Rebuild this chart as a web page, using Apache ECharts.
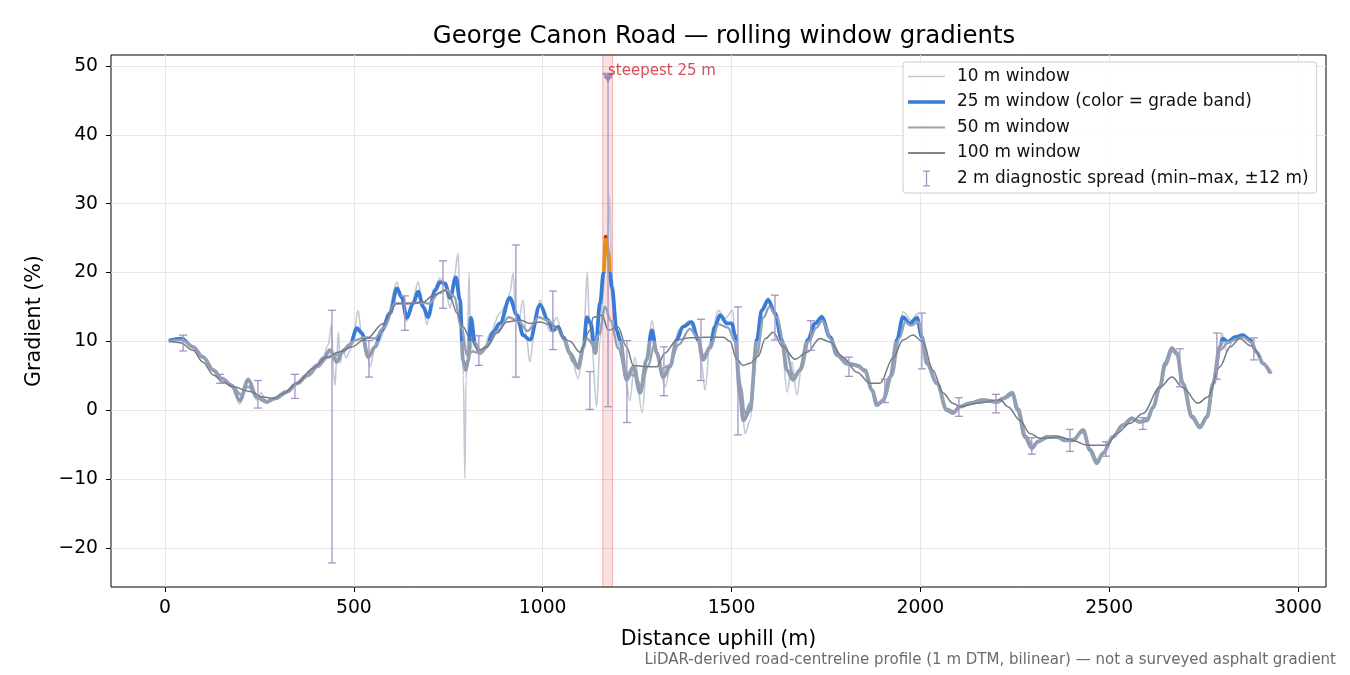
<!DOCTYPE html>
<html>
<head>
<meta charset="utf-8">
<script src="https://cdn.jsdelivr.net/npm/echarts@6/dist/echarts.min.js"></script>
<style>
  html, body { margin: 0; padding: 0; background: #fff; }
  #chart { width: 1350px; height: 675px; }
</style>
</head>
<body>
<div id="chart"></div>
<script>
// gradient (%) vs distance uphill (m)
const win10 = [[10,10.0],[44,10.5],[74,9.1],[101,7.5],[128,5.6],[150,4.5],[177,3.3],[198,0.9],[220,4.7],[243,1.5],[255,2.5],[269,1.0],[291,1.6],[322,2.6],[349,3.9],[376,5.0],[402,6.6],[419,7.8],[432,9.5],[441,12.4],[446,5.5],[450,3.6],[455,8.0],[459,11.3],[464,6.8],[470,8.8],[480,7.6],[490,8.7],[500,11.0],[511,14.5],[521,10.8],[534,8.7],[543,6.3],[556,9.0],[570,10.2],[590,14.0],[614,18.6],[627,16.0],[640,12.9],[657,16.0],[670,18.6],[684,15.0],[693,12.4],[712,17.5],[728,19.2],[741,18.2],[755,14.8],[766,19.5],[776,22.8],[781,15.5],[786,13.5],[790,5.0],[794,-9.9],[797,4.5],[800,6.8],[805,19.9],[809,11.0],[813,8.7],[826,8.3],[843,8.7],[861,11.2],[887,14.1],[905,15.5],[913,17.0],[922,19.9],[928,14.5],[935,12.4],[948,16.0],[957,10.5],[966,7.0],[980,12.5],[993,16.0],[1005,13.5],[1019,11.4],[1037,13.5],[1054,10.2],[1076,7.7],[1094,4.6],[1108,9.7],[1118,20.1],[1124,12.5],[1130,9.2],[1143,0.5],[1152,10.2],[1160,17.0],[1165,21.8],[1172,24.5],[1177,31.0],[1183,20.0],[1191,13.4],[1205,8.5],[1218,4.8],[1231,1.4],[1244,7.7],[1263,-0.4],[1279,9.2],[1289,13.0],[1306,7.3],[1324,3.4],[1342,7.3],[1359,11.6],[1390,13.0],[1408,11.0],[1420,7.0],[1430,2.9],[1443,9.7],[1465,14.5],[1483,13.3],[1503,14.5],[1513,7.3],[1527,0.5],[1536,-3.4],[1549,-1.5],[1567,8.3],[1580,14.5],[1597,16.3],[1615,14.0],[1633,9.8],[1647,2.6],[1660,7.0],[1673,2.2],[1685,6.0],[1702,10.0],[1721,12.5],[1739,13.8],[1761,10.5],[1779,7.8],[1806,6.5],[1820,6.8],[1841,6.5],[1853,5.6],[1872,2.6],[1885,0.6],[1901,1.2],[1920,5.0],[1938,10.5],[1954,14.3],[1977,13.0],[1991,14.0],[2004,10.5],[2017,6.5],[2044,3.8],[2070,-0.2],[2086,-0.6],[2105,0.6],[2131,1.1],[2166,1.3],[2203,1.0],[2219,1.8],[2243,2.7],[2258,-0.2],[2277,-4.1],[2295,-5.8],[2311,-4.4],[2335,-3.7],[2362,-4.1],[2383,-4.6],[2404,-4.2],[2431,-2.7],[2449,-6.0],[2467,-7.9],[2483,-6.1],[2510,-3.7],[2536,-2.0],[2560,-1.0],[2581,-1.9],[2600,-1.3],[2616,0.6],[2634,3.5],[2648,7.0],[2666,9.2],[2679,8.0],[2695,3.7],[2719,-1.2],[2740,-2.7],[2759,-0.8],[2775,4.0],[2793,9.5],[2798,11.2],[2811,8.5],[2833,10.8],[2854,11.0],[2873,10.0],[2891,8.2],[2907,6.6],[2926,5.3]];

const win25 = [[10,10.1],[44,10.4],[74,9.2],[101,7.7],[128,5.8],[150,4.6],[177,3.6],[198,1.4],[220,4.4],[243,1.9],[269,1.2],[291,1.7],[322,2.7],[349,3.9],[376,5.1],[402,6.5],[419,7.5],[437,8.7],[455,7.0],[470,8.5],[490,9.5],[508,11.9],[521,11.2],[538,7.7],[556,9.2],[574,11.6],[596,14.1],[614,17.7],[627,16.4],[640,13.4],[657,15.5],[670,17.2],[684,15.0],[696,13.5],[715,17.4],[728,18.6],[741,18.4],[755,16.3],[770,19.3],[781,16.0],[789,7.3],[796,5.8],[803,7.3],[810,13.4],[821,9.7],[834,8.3],[852,9.2],[868,11.3],[887,12.6],[913,16.3],[932,13.8],[948,10.9],[966,10.2],[993,15.3],[1014,13.1],[1027,11.6],[1041,12.1],[1054,10.6],[1072,8.3],[1094,6.3],[1108,9.2],[1117,13.5],[1127,12.6],[1139,8.3],[1152,15.5],[1161,19.9],[1167,25.2],[1174,22.8],[1178,19.9],[1183,17.9],[1196,11.6],[1205,10.2],[1222,4.4],[1240,6.3],[1258,2.5],[1275,7.3],[1289,11.6],[1302,8.3],[1319,4.8],[1337,6.3],[1355,10.2],[1371,12.1],[1394,12.8],[1412,10.2],[1425,7.3],[1443,9.2],[1456,12.1],[1469,13.8],[1488,12.6],[1501,12.6],[1509,10.9],[1522,2.5],[1531,-1.5],[1549,0.0],[1567,10.2],[1580,14.5],[1597,16.0],[1615,14.1],[1633,10.2],[1647,5.8],[1663,4.4],[1681,5.8],[1702,10.2],[1721,12.6],[1739,13.5],[1761,10.6],[1779,8.0],[1806,6.8],[1832,6.5],[1853,5.8],[1872,2.9],[1885,0.7],[1901,1.4],[1920,4.8],[1938,10.2],[1954,13.5],[1972,12.6],[1991,13.4],[2004,10.6],[2017,6.8],[2044,3.9],[2070,0.0],[2086,-0.4],[2105,0.5],[2131,1.0],[2166,1.5],[2203,1.2],[2219,1.7],[2243,2.5],[2258,0.0],[2277,-3.9],[2295,-5.5],[2311,-4.6],[2335,-3.9],[2362,-3.9],[2383,-4.4],[2404,-4.4],[2431,-2.9],[2449,-5.8],[2467,-7.7],[2483,-6.3],[2510,-3.9],[2536,-2.2],[2560,-1.2],[2581,-1.7],[2600,-1.5],[2616,0.4],[2634,3.3],[2648,6.8],[2666,9.0],[2679,8.3],[2695,3.9],[2719,-1.0],[2740,-2.5],[2759,-1.0],[2775,3.9],[2793,9.2],[2801,10.4],[2814,9.9],[2833,10.6],[2854,10.9],[2873,10.2],[2891,8.4],[2907,6.8],[2926,5.4]];

const win50 = [[10,10.0],[45,10.2],[75,9.2],[100,7.8],[130,5.8],[150,4.6],[180,3.4],[200,2.3],[220,3.4],[245,2.0],[270,1.3],[295,1.7],[325,2.6],[350,3.8],[380,5.0],[405,6.3],[430,7.6],[455,8.0],[480,9.0],[505,10.2],[530,10.6],[555,10.4],[580,12.0],[610,15.5],[640,15.5],[670,15.6],[700,15.5],[725,17.0],[745,17.5],[765,16.5],[785,12.0],[800,8.0],[815,8.5],[835,8.3],[855,9.5],[880,11.5],[910,13.5],[935,13.0],[960,11.5],[990,13.5],[1015,13.0],[1040,11.8],[1060,10.0],[1080,7.0],[1095,6.0],[1115,10.5],[1135,9.5],[1150,11.0],[1165,15.0],[1180,13.0],[1200,9.0],[1220,5.5],[1245,5.0],[1260,3.5],[1280,6.5],[1295,9.5],[1315,6.0],[1335,6.5],[1360,9.5],[1390,11.8],[1410,10.5],[1425,8.0],[1445,9.0],[1465,12.5],[1490,12.0],[1510,10.0],[1525,3.5],[1535,-0.5],[1550,1.0],[1567,8.0],[1585,13.5],[1600,15.0],[1620,13.5],[1640,9.5],[1665,5.0],[1685,6.0],[1705,10.0],[1725,12.0],[1740,13.0],[1765,10.2],[1785,8.0],[1810,6.8],[1835,6.3],[1855,5.5],[1875,2.5],[1888,0.8],[1905,1.6],[1925,5.0],[1945,10.5],[1960,12.8],[1975,12.3],[1995,12.8],[2008,10.2],[2020,6.8],[2045,3.8],[2070,0.2],[2090,-0.2],[2110,0.6],[2135,1.0],[2170,1.4],[2205,1.1],[2225,1.7],[2245,2.3],[2260,0.2],[2280,-3.8],[2297,-5.2],[2315,-4.5],[2340,-4.0],[2365,-3.9],[2385,-4.3],[2405,-4.2],[2430,-3.2],[2450,-5.6],[2468,-7.3],[2485,-6.1],[2510,-3.8],[2540,-2.0],[2562,-1.3],[2582,-1.6],[2600,-1.2],[2618,0.6],[2635,3.3],[2650,6.5],[2667,8.6],[2680,8.0],[2697,3.8],[2720,-0.8],[2740,-2.2],[2760,-0.8],[2777,3.8],[2795,8.8],[2815,9.8],[2835,10.3],[2855,10.6],[2875,9.9],[2893,8.2],[2910,6.6],[2930,5.3]];

const win100 = [[10,10.0],[40,9.8],[74,8.7],[100,7.0],[128,5.1],[155,4.0],[180,3.4],[225,2.7],[260,1.9],[287,1.7],[314,2.4],[349,3.9],[392,6.1],[428,7.7],[463,8.5],[490,9.1],[534,10.4],[578,12.6],[614,15.5],[649,15.5],[684,15.7],[710,16.7],[741,17.4],[755,16.4],[773,14.1],[789,12.1],[808,10.4],[829,8.7],[852,9.2],[879,11.2],[905,12.8],[940,13.1],[966,12.6],[993,12.8],[1019,12.4],[1040,12.0],[1054,10.4],[1072,10.0],[1099,8.4],[1125,11.6],[1134,13.5],[1157,13.8],[1174,11.6],[1199,12.1],[1222,9.2],[1240,6.5],[1275,6.3],[1302,6.3],[1324,8.3],[1355,10.2],[1390,10.5],[1435,10.6],[1478,10.6],[1496,10.0],[1513,7.5],[1530,6.5],[1549,6.8],[1570,7.8],[1590,10.4],[1610,11.3],[1636,9.2],[1668,7.4],[1700,8.4],[1734,10.4],[1761,9.9],[1795,7.7],[1832,5.5],[1867,3.9],[1893,3.9],[1928,7.6],[1954,10.2],[1980,10.9],[2007,9.9],[2033,5.8],[2060,2.5],[2086,1.0],[2105,0.5],[2150,1.0],[2211,1.5],[2232,0.5],[2264,-1.5],[2290,-3.4],[2317,-4.1],[2370,-3.9],[2404,-4.4],[2441,-5.1],[2494,-5.1],[2520,-3.4],[2555,-1.9],[2589,-0.5],[2634,3.3],[2666,4.8],[2695,3.3],[2735,1.0],[2761,1.9],[2793,6.3],[2820,9.2],[2846,10.4],[2873,9.4],[2899,7.7]];

// 2 m diagnostic spread (min / max within +-12 m)
const spreadX  = [48, 146, 246, 344, 442, 540, 635, 736, 831, 929, 1027, 1125, 1173, 1223, 1321, 1419, 1517, 1615, 1710, 1811, 1906, 2004, 2102, 2200, 2295, 2396, 2491, 2589, 2687, 2785, 2883];
const spreadLo = [8.6, 3.9, 0.3, 1.7, -22.2, 4.8, 11.6, 14.8, 6.5, 4.8, 8.8, 0.1, 0.5, -1.8, 2.1, 4.3, -3.6, 10.2, 8.7, 4.9, 1.1, 6.0, -0.9, -0.4, -6.4, -6.0, -6.7, -2.8, 3.4, 4.5, 7.3];
const spreadHi = [10.9, 5.2, 4.3, 5.2, 14.5, 10.1, 16.6, 21.7, 10.8, 24.0, 17.3, 5.6, 48.3, 10.1, 9.2, 13.2, 15.0, 16.7, 13.0, 7.7, 4.5, 14.1, 1.8, 2.3, -4.0, -2.8, -4.6, -1.1, 8.9, 11.2, 10.5];

const steepest = [1173, 48.3];
const steepestBand = [1159, 1185];

const xTicks = [0, 500, 1000, 1500, 2000, 2500, 3000];
const yTicks = [-20, -10, 0, 10, 20, 30, 40, 50];

const FONT = 'DejaVu Sans';
const C10 = '#c1c9d4';
const C25 = '#3a7bd8';
const C25_LOW = '#8f9db0';
const C50 = '#94a1b4';
const C100 = '#737b88';
const CSPREAD = '#a395c2';

const NAME10 = '10 m window';
const NAME25 = '25 m window (color = grade band)';
const NAME50 = '50 m window';
const NAME100 = '100 m window';
const NAMESPREAD = '2 m diagnostic spread (min\u2013max, \u00b112 m)';

// legend icons: a bar across a 37x17 box (corner points fix the box size)
const BOX = 'M0,0L0,0ZM37,17L37,17Z';
const lineIcon = w => 'path://' + BOX + 'M0,' + (8.5 - w / 2) + 'H37V' + (8.5 + w / 2) + 'H0Z';
const spreadIcon = 'path://' + BOX + 'M15,0.5H22V1.8H19.15V15.2H22V16.5H15V15.2H17.85V1.8H15Z';

const chart = echarts.init(document.getElementById('chart'), null, { renderer: 'canvas' });

const lineSeries = (name, data, color, width, z) => ({
    name: name,
    type: 'line',
    data: data,
    color: color,
    showSymbol: false,
    symbol: 'none',
    smooth: 0.35,
    smoothMonotone: 'x',
    lineStyle: { color: color, width: width },
    z: z,
    animation: false
});

const s10 = lineSeries(NAME10, win10, C10, 1.6, 2);
s10.markArea = {
    silent: true,
    itemStyle: { color: 'rgba(220,60,70,0.16)', borderColor: 'rgba(220,60,70,0.35)', borderWidth: 1 },
    data: [[{ xAxis: steepestBand[0] }, { xAxis: steepestBand[1] }]]
};

// 25 m line takes its colour from the grade band visualMap
const s25 = lineSeries(NAME25, win25, C25, 3.8, 3);
s25.lineStyle = { width: 3.8 };

const options = {
    backgroundColor: '#fff',
    animation: false,
    textStyle: { fontFamily: FONT },
    title: {
        text: 'George Canon Road \u2014 rolling window gradients',
        left: 719,
        textAlign: 'center',
        top: 20,
        textStyle: { fontFamily: FONT, fontSize: 24.4, fontWeight: 'normal', color: '#000' }
    },
    grid: {
        left: 111, right: 24, top: 55, bottom: 88,
        show: true, borderColor: '#000', borderWidth: 1, backgroundColor: 'transparent'
    },
    legend: {
        orient: 'vertical',
        left: 903, top: 62,
        padding: [6, 8, 6, 5],
        itemWidth: 37, itemHeight: 17, itemGap: 8.5,
        backgroundColor: 'rgba(255,255,255,0.85)',
        borderColor: '#cccccc', borderWidth: 1, borderRadius: 3,
        textStyle: { fontFamily: FONT, fontSize: 16.9, color: '#111', padding: [0, 0, 0, 7] },
        data: [
            { name: NAME10, icon: lineIcon(1.5), itemStyle: { color: C10 } },
            { name: NAME25, icon: lineIcon(3.5), itemStyle: { color: C25 } },
            { name: NAME50, icon: lineIcon(1.8), itemStyle: { color: C50 } },
            { name: NAME100, icon: lineIcon(1.8), itemStyle: { color: '#7c8594' } },
            { name: NAMESPREAD, icon: spreadIcon, itemStyle: { color: CSPREAD } }
        ]
    },
    visualMap: {
        show: false,
        type: 'piecewise',
        seriesIndex: 1,
        dimension: 1,
        pieces: [
            { lt: 10, color: C25_LOW },
            { gte: 10, lt: 20, color: C25 },
            { gte: 20, lt: 25, color: '#e8900f' },
            { gte: 25, color: '#c3252d' }
        ]
    },
    xAxis: {
        type: 'value',
        min: -143, max: 3074,
        name: 'Distance uphill (m)',
        nameLocation: 'middle',
        nameGap: 42,
        nameTextStyle: { fontFamily: FONT, fontSize: 20.6, color: '#000' },
        axisLine: { show: false, onZero: false },
        axisTick: { show: true, length: 5, lineStyle: { color: '#000' }, customValues: xTicks },
        axisLabel: {
            customValues: xTicks, fontFamily: FONT, fontSize: 18.75, color: '#000', margin: 12,
            formatter: v => String(v)
        },
        splitLine: { show: true, lineStyle: { color: '#e6e6e6', width: 1 } }
    },
    yAxis: {
        type: 'value',
        min: -25.7, max: 51.6,
        name: 'Gradient (%)',
        nameLocation: 'middle',
        nameGap: 66,
        nameTextStyle: { fontFamily: FONT, fontSize: 20.6, color: '#000' },
        axisLine: { show: false, onZero: false },
        axisTick: { show: true, length: 5, lineStyle: { color: '#000' }, customValues: yTicks },
        axisLabel: {
            customValues: yTicks, fontFamily: FONT, fontSize: 18.75, color: '#000', margin: 13,
            formatter: v => String(v).replace('-', '\u2212')
        },
        splitLine: { show: true, lineStyle: { color: '#e6e6e6', width: 1 } }
    },
    graphic: [{
        type: 'text',
        right: 14, top: 653,
        style: {
            text: 'LiDAR-derived road-centreline profile (1 m DTM, bilinear) \u2014 not a surveyed asphalt gradient',
            fontFamily: FONT, fontSize: 15, fill: '#6b6b6b'
        }
    }],
    series: [
        s10,
        s25,
        lineSeries(NAME50, win50, C50, 2.4, 4),
        lineSeries(NAME100, win100, C100, 1.5, 5),
        {
            name: NAMESPREAD,
            type: 'custom',
            z: 6,
            itemStyle: { color: CSPREAD },
            data: spreadX.map((x, i) => [x, spreadLo[i], spreadHi[i]]),
            encode: { x: 0, y: [1, 2] },
            renderItem: (params, api) => {
                const x = api.value(0);
                const lo = api.coord([x, api.value(1)]);
                const hi = api.coord([x, api.value(2)]);
                const w = 4;
                const style = { stroke: CSPREAD, lineWidth: 1.3, fill: null };
                return {
                    type: 'group',
                    children: [
                        { type: 'line', shape: { x1: lo[0], y1: lo[1], x2: hi[0], y2: hi[1] }, style: style },
                        { type: 'line', shape: { x1: lo[0] - w, y1: lo[1], x2: lo[0] + w, y2: lo[1] }, style: style },
                        { type: 'line', shape: { x1: hi[0] - w, y1: hi[1], x2: hi[0] + w, y2: hi[1] }, style: style }
                    ]
                };
            }
        },
        {
            name: 'steepest',
            type: 'scatter',
            z: 7,
            data: [steepest],
            symbol: 'triangle',
            symbolRotate: 180,
            symbolSize: [12, 10],
            itemStyle: { color: '#8b7fb3' },
            label: {
                show: true,
                position: [6, -9],
                formatter: 'steepest 25 m',
                fontFamily: FONT, fontSize: 15, color: '#d0202c'
            }
        }
    ]
};

chart.setOption(options);
</script>
</body>
</html>
